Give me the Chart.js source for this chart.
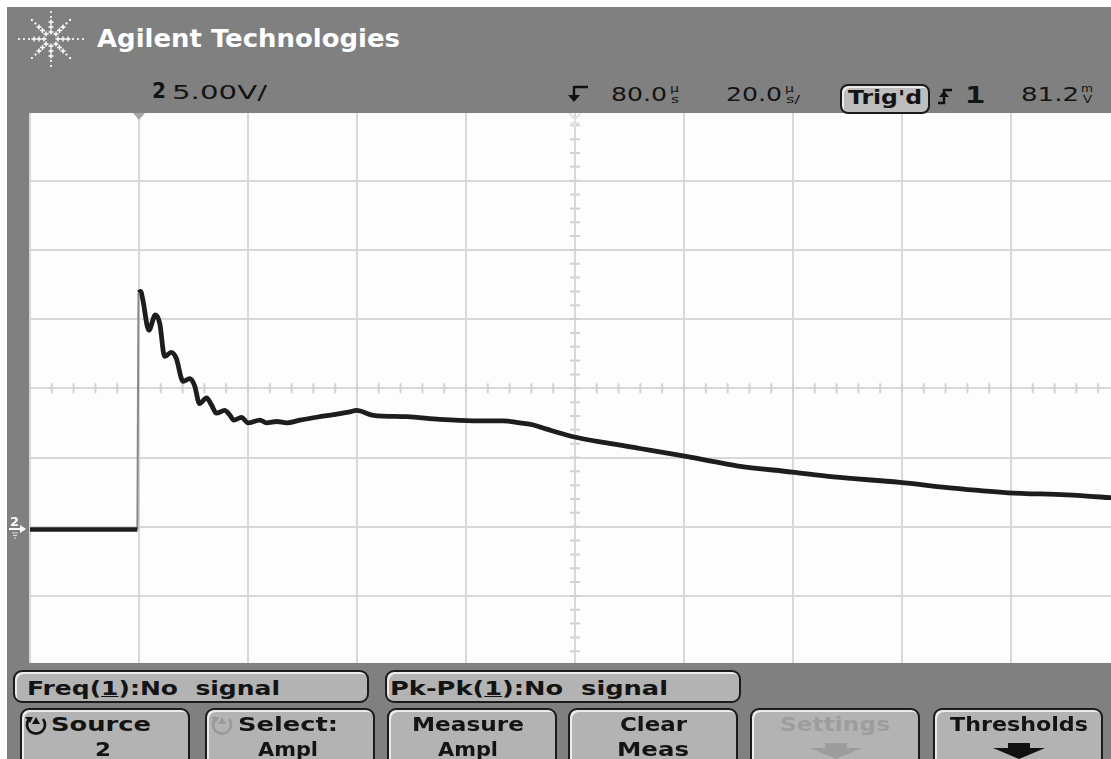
<!DOCTYPE html>
<html>
<head>
<meta charset="utf-8">
<script src="https://cdn.jsdelivr.net/npm/chart.js@4.4.0/dist/chart.umd.min.js"></script>
<style>
html, body { margin: 0; padding: 0; width: 1111px; height: 759px; overflow: hidden; background: #fff; }
#scope { position: absolute; left: 7px; top: 7px; width: 1104px; height: 752px; background: #808080; }
#cv { position: absolute; left: 0; top: 0; z-index: 1; }
.band { position: absolute; background: #808080; z-index: 2; }
.key { position: absolute; z-index: 3; background: #b3b3b3; border: 2px solid #1b1b1b; border-radius: 9px;
       box-shadow: inset 2px 2px 0 #ececec; box-sizing: border-box; }
.t { position: absolute; z-index: 4; white-space: nowrap; transform-origin: 0 0; line-height: 1; }
svg { position: absolute; z-index: 4; }
</style>
</head>
<body>
<div id="scope"></div>
<canvas id="cv" width="1130" height="759"></canvas>
<div class="band" style="left:7px;top:7px;width:1104px;height:106px"></div>
<div class="band" style="left:7px;top:663px;width:1104px;height:96px"></div>

<script>
// Ajustes del osciloscopio (lo que se lee en la cabecera)
const channel = 2;
const voltsPerDiv = 5.00;
const timePerDiv = 20.0;   // µs/div
const delayTime = 80.0;    // µs en el centro
const trigLevel = 81.2;    // mV
const centerVolts = 10;    // la referencia de tierra queda 2 div bajo el centro

// Traza del canal 2 (tiempo en µs, tension en V)
const times = [-20, -0.3, -0.1, 0.3, 0.7, 1.8, 3.0, 3.8, 4.7, 5.9, 6.8, 8.1, 9.3, 10.2, 11.1, 12.4,
  13.3, 14.2, 15.7, 16.6, 17.4, 18.8, 20.0, 22.2, 23.4, 25.3, 27.1, 29.5, 33.2, 35.7, 38.7, 39.9,
  43.0, 49.1, 55.2, 61.3, 66.8, 69.9, 72.4, 74.8, 79.7, 85.8, 91.9, 98.0, 104.2, 109.7, 119.8,
  127.4, 139.6, 148.8, 159.5, 170.2, 178.2, 180];
const volts = [-0.2, -0.2, 16.9, 17.0, 16.4, 14.2, 15.3, 14.7, 12.3, 12.6, 12.2, 10.5, 10.7, 10.2, 8.9, 9.3,
  8.8, 8.2, 8.4, 8.1, 7.7, 7.9, 7.5, 7.7, 7.5, 7.6, 7.5, 7.7, 7.95, 8.1, 8.3, 8.4,
  8.05, 7.95, 7.75, 7.65, 7.65, 7.5, 7.35, 7.05, 6.5, 6.05, 5.65, 5.25, 4.8, 4.4, 3.95,
  3.6, 3.2, 2.8, 2.45, 2.3, 2.1, 2.05];
const riseIdx = 1;   // ultimo punto antes del flanco de subida

const gridColor = '#d8d8d8';
const traceColor = '#1d1d1d';

function pts(a, b) {
  const out = [];
  for (let i = a; i <= b; i++) out.push({ x: times[i], y: volts[i] });
  return out;
}

// Fondo blanco, marcas menores en los ejes centrales y marcadores superiores
const scopeGrid = {
  id: 'scopeGrid',
  beforeDraw(chart) {
    const { ctx, chartArea: a } = chart;
    ctx.save();
    ctx.fillStyle = '#fdfdfd';
    ctx.fillRect(a.left, a.top, a.right - a.left, a.bottom - a.top);
    ctx.restore();
  },
  beforeDatasetsDraw(chart) {
    const { ctx, scales: { x, y } } = chart;
    const cx = x.getPixelForValue(delayTime);
    const cy = y.getPixelForValue(centerVolts);
    ctx.save();
    ctx.strokeStyle = '#d2d2d2';
    ctx.lineWidth = 2;
    ctx.beginPath();
    for (let t = x.min; t <= x.max; t += timePerDiv / 5) {
      const px = x.getPixelForValue(t);
      ctx.moveTo(px, cy - 5); ctx.lineTo(px, cy + 5);
    }
    for (let v = y.min; v <= y.max; v += voltsPerDiv / 5) {
      const py = y.getPixelForValue(v);
      ctx.moveTo(cx - 5, py); ctx.lineTo(cx + 5, py);
    }
    ctx.stroke();
    // marcador del disparo (t = 0)
    const tx = x.getPixelForValue(0);
    const top = y.getPixelForValue(y.max) + 1.5;
    ctx.fillStyle = '#a6a6a6';
    ctx.beginPath();
    ctx.moveTo(tx - 6, top); ctx.lineTo(tx + 6, top); ctx.lineTo(tx, top + 7); ctx.closePath();
    ctx.fill();
    // marcador del retardo
    ctx.strokeStyle = '#e2e2e2';
    ctx.beginPath();
    ctx.moveTo(cx - 6, top); ctx.lineTo(cx, top + 6); ctx.lineTo(cx + 6, top);
    ctx.moveTo(cx, top + 6); ctx.lineTo(cx, top + 14);
    ctx.moveTo(cx - 4, top + 10); ctx.lineTo(cx + 4, top + 10);
    ctx.stroke();
    ctx.restore();
  }
};

new Chart(document.getElementById('cv'), {
  type: 'line',
  data: {
    datasets: [
      { data: pts(0, riseIdx), borderColor: traceColor, borderWidth: 4.5 },
      { data: pts(riseIdx, riseIdx + 1), borderColor: '#8a8a8a', borderWidth: 2 },
      { data: pts(riseIdx + 1, times.length - 1), borderColor: traceColor, borderWidth: 4.8,
        borderJoinStyle: 'round', cubicInterpolationMode: 'monotone' }
    ]
  },
  options: {
    responsive: false,
    animation: false,
    parsing: false,
    elements: { point: { radius: 0 }, line: { tension: 0 } },
    layout: { padding: { left: 30, top: 111.5, right: 10, bottom: 93.9 } },
    plugins: { legend: { display: false }, tooltip: { enabled: false } },
    scales: {
      x: {
        type: 'linear',
        min: delayTime - 5 * timePerDiv,
        max: delayTime + 5 * timePerDiv,
        ticks: { stepSize: timePerDiv, display: false },
        grid: { color: gridColor, lineWidth: 2, drawTicks: false },
        border: { display: false }
      },
      y: {
        min: centerVolts - 4 * voltsPerDiv,
        max: centerVolts + 4 * voltsPerDiv,
        ticks: { stepSize: voltsPerDiv, display: false },
        grid: { color: gridColor, lineWidth: 2, drawTicks: false },
        border: { display: false }
      }
    }
  },
  plugins: [scopeGrid]
});

// ---- textos ----
const SANS = '"DejaVu Sans", sans-serif';
const MONO = '"DejaVu Sans Mono", monospace';

function txt(str, x, base, size, opt = {}) {
  const el = document.createElement('div');
  el.className = 't';
  if (opt.html) el.innerHTML = str; else el.textContent = str;
  el.style.fontSize = size + 'px';
  el.style.fontWeight = opt.bold ? 'bold' : 'normal';
  el.style.fontFamily = opt.font || SANS;
  el.style.color = opt.color || '#141414';
  el.style.top = (base - 0.846 * size) + 'px';
  document.body.appendChild(el);
  const w = el.getBoundingClientRect().width;
  const s = opt.w ? opt.w / w : 1;
  el.style.transform = 'scaleX(' + s + ')';
  el.style.left = (opt.center ? x - w * s / 2 : x) + 'px';
  return el;
}

function box(x, y, w, h) {
  const d = document.createElement('div');
  d.className = 'key';
  d.style.left = x + 'px'; d.style.top = y + 'px';
  d.style.width = w + 'px'; d.style.height = h + 'px';
  document.body.appendChild(d);
  return d;
}

function svg(x, y, w, h, inner) {
  const s = document.createElementNS('http://www.w3.org/2000/svg', 'svg');
  s.setAttribute('width', w); s.setAttribute('height', h);
  s.style.left = x + 'px'; s.style.top = y + 'px';
  s.innerHTML = inner;
  document.body.appendChild(s);
}

// logo
(function () {
  let dots = '';
  const cx = 40, cy = 32;
  for (let k = 0; k < 8; k++) {
    const ang = k * Math.PI / 4;
    const len = (k % 4 === 0) ? 36 : (k % 4 === 2 ? 31 : 28);
    for (let r = 7; r <= len; r += 5) {
      const px = cx + Math.cos(ang) * r, py = cy + Math.sin(ang) * r;
      if (r < 18) dots += `<path d="M${px - 2.5} ${py}h5M${px} ${py - 2.5}v5" stroke="#fff" stroke-width="1.4"/>`;
      else dots += `<circle cx="${px}" cy="${py}" r="1.1" fill="#fff"/>`;
    }
  }
  svg(11, 7, 82, 68, dots);
})();
txt('Agilent Technologies', 97, 47, 24, { bold: true, color: '#fff', w: 303 });

// fila de ajustes
txt(String(channel), 152, 99, 21, { bold: true, w: 14 });
txt(voltsPerDiv.toFixed(2) + 'V/', 172, 99, 20, { w: 95 });

svg(566, 84, 24, 20, '<path d="M8 3h14M8 2v12" stroke="#111" stroke-width="2.4" fill="none"/><path d="M2 11h12l-6 7z" fill="#111"/>');
txt(delayTime.toFixed(1), 611, 101, 20, { w: 56 });
txt('µ', 670, 92, 11, { w: 9 });
txt('s', 671, 103, 11, { w: 8 });
txt(timePerDiv.toFixed(1), 726, 101, 20, { w: 56 });
txt('µ', 785, 92, 11, { w: 9 });
txt('s/', 786, 103, 11, { w: 14 });

const trig = box(840, 84, 90, 30);
trig.style.borderRadius = '8px';
trig.style.background = '#bdbdbd';
txt("Trig'd", 885, 104, 19, { bold: true, w: 74, center: true });
svg(935, 86, 22, 20, '<path d="M3 17h6V4h8" stroke="#111" stroke-width="2.4" fill="none"/><path d="M4 11l5-6 5 6z" fill="#111"/>');
txt('1', 975, 103, 23, { bold: true, font: MONO, center: true, w: 20 });
txt(trigLevel.toFixed(1), 1021, 101, 20, { w: 58 });
txt('m', 1081, 92, 11, { w: 12 });
txt('V', 1083, 103, 11, { w: 9 });

// marca de tierra del canal 2
txt(String(channel), 10, 526, 13, { bold: true, color: '#fff', w: 9 });
svg(8, 523, 22, 16, '<path d="M1 6h12" stroke="#fff" stroke-width="2"/><path d="M12 2l6 4-6 4z" fill="#fff"/><path d="M4 10h6M5 12.5h4M6 15h2" stroke="#ddd" stroke-width="1"/>');

// fila de medidas
box(13, 670, 356, 33);
txt('Freq(<u>1</u>):No&nbsp; signal', 27, 695, 19, { bold: true, html: true, w: 253 });
box(385, 670, 356, 33);
txt('Pk-Pk(<u>1</u>):No&nbsp; signal', 390, 695, 19, { bold: true, html: true, w: 278 });

// teclas
const keyX = [20, 205, 387, 568, 750, 933];
const keyTop = ['Source', 'Select:', 'Measure', 'Clear', 'Settings', 'Thresholds'];
const keyBottom = [String(channel), 'Ampl', 'Ampl', 'Meas', '', ''];
const keyTopW = [100, 100, 112, 67, 110, 138];
const keyBotW = [16, 60, 60, 72, 0, 0];
const keyMid = [81, 83, 81, 85, 85, 86];
keyX.forEach((kx, i) => {
  box(kx, 708, 170, 62);
  const cx = kx + keyMid[i];
  const col = i === 4 ? '#9d9d9d' : '#141414';
  txt(keyTop[i], cx, 731, 20, { bold: true, center: true, w: keyTopW[i], color: col });
  if (keyBottom[i]) txt(keyBottom[i], i === 0 ? kx + 83 : cx, 756, 20, { bold: true, center: true, w: keyBotW[i] });
});
// iconos de giro
const knob = c => `<path d="M7 8A9 9 0 1 0 21 8" stroke="${c}" stroke-width="2.6" fill="none"/>` +
  `<path d="M3 6h8l-3 6z" fill="${c}"/><path d="M14 6l4 7h-8z" fill="${c}"/>`;
svg(22, 711, 28, 24, knob('#111'));
svg(208, 711, 28, 24, knob('#9a9a9a'));
// flechas de submenu
svg(806, 742, 60, 18, '<path d="M19 1h22v5H19z M4 6h52L30 17z" fill="#9d9d9d"/>');
svg(989, 742, 60, 18, '<path d="M19 1h22v5H19z M4 6h52L30 17z" fill="#111"/>');
</script>
</body>
</html>
